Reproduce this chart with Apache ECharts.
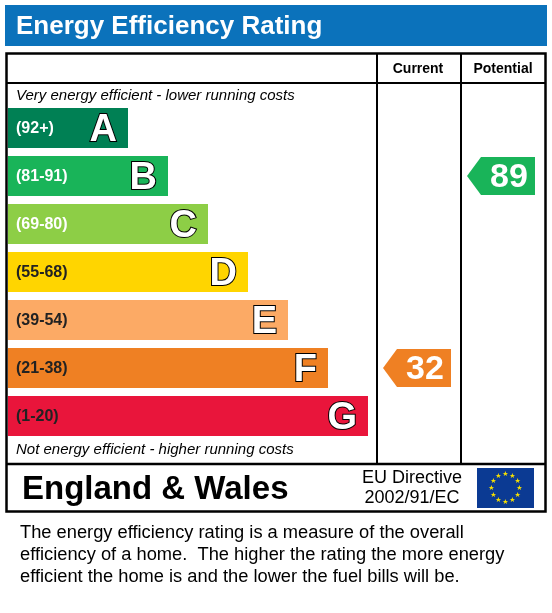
<!DOCTYPE html>
<html><head><meta charset="utf-8">
<script src="https://cdn.jsdelivr.net/npm/echarts@6/dist/echarts.min.js"></script>
<style>html,body{margin:0;padding:0;background:#fff}#c{width:552px;height:613px}</style>
</head><body><div id="c"></div>
<script>
const bands = ['A','B','C','D','E','F','G'];
const ranges = ['(92+)','(81-91)','(69-80)','(55-68)','(39-54)','(21-38)','(1-20)'];
const barLengths = [3,4,5,6,7,8,9];
const colors = ['#008054','#19b459','#8dce46','#ffd500','#fcaa65','#ef8023','#e9153b'];
const rangeColors = ['#fff','#fff','#fff','#222','#222','#222','#222'];
const currentRating = 32, currentBand = 5;
const potentialRating = 89, potentialBand = 1;
const F = 'Liberation Sans, Arial, sans-serif';

const chart = echarts.init(document.getElementById('c'));
function arrow(colLeft, colRight, bandIdx, value, api){
  const y = api.coord([0, bandIdx])[1];
  const h = 38, x0 = colLeft + 6, x1 = colRight - 2, t = 14;
  return {type:'group', children:[
    {type:'polygon', shape:{points:[[x0,y],[x0+t,y-h/2],[x1,y-h/2],[x1,y+h/2],[x0+t,y+h/2]]},
     style:{fill:colors[bandIdx]}},
    {type:'text', style:{text:String(value), x:(x0+t+x1)/2+1, y:y+2, align:'center', verticalAlign:'middle',
      fill:'#fff', font:'bold 34px '+F}}
  ]};
}
chart.setOption({
  animation:false,
  grid:{left:8, top:104, width:360, height:336},
  xAxis:{type:'value', min:0, max:9, show:false},
  yAxis:{type:'category', data:bands, inverse:true, show:false},
  graphic:[
    {type:'rect', shape:{x:5,y:5,width:542,height:41}, style:{fill:'#0b72bb'}},
    {type:'text', style:{text:'Energy Efficiency Rating', x:16, y:27, verticalAlign:'middle', fill:'#fff', font:'bold 26px '+F}},
    {type:'rect', shape:{x:6.5,y:53.5,width:539,height:458}, style:{fill:'none', stroke:'#000', lineWidth:2.5}},
    {type:'line', shape:{x1:6,y1:83,x2:545,y2:83}, style:{stroke:'#000', lineWidth:2}},
    {type:'line', shape:{x1:377,y1:53,x2:377,y2:464}, style:{stroke:'#000', lineWidth:2}},
    {type:'line', shape:{x1:461,y1:53,x2:461,y2:464}, style:{stroke:'#000', lineWidth:2}},
    {type:'line', shape:{x1:6,y1:464,x2:545,y2:464}, style:{stroke:'#000', lineWidth:2.5}},
    {type:'text', style:{text:'Current', x:418, y:69, align:'center', verticalAlign:'middle', fill:'#000', font:'bold 14px '+F}},
    {type:'text', style:{text:'Potential', x:503, y:69, align:'center', verticalAlign:'middle', fill:'#000', font:'bold 14px '+F}},
    {type:'text', style:{text:'Very energy efficient - lower running costs', x:16, y:96, verticalAlign:'middle', fill:'#000', font:'italic 15px '+F}},
    {type:'text', style:{text:'Not energy efficient - higher running costs', x:16, y:450, verticalAlign:'middle', fill:'#000', font:'italic 15px '+F}},
    {type:'text', style:{text:'England & Wales', x:22, y:490, verticalAlign:'middle', fill:'#000', font:'bold 33px '+F}},
    {type:'text', style:{text:'EU Directive\n2002/91/EC', x:412, y:488, align:'center', verticalAlign:'middle', fill:'#000', font:'18px '+F, lineHeight:20}},
    {type:'rect', shape:{x:477,y:468,width:57,height:40}, style:{fill:'#0b3a93'}},
    ...Array.from({length:12},(_,i)=>({type:'text', style:{text:'★', x:505.5+14*Math.sin(i*Math.PI/6), y:488-14*Math.cos(i*Math.PI/6), align:'center', verticalAlign:'middle', fill:'#f7e000', font:'7px DejaVu Sans'}})),
    {type:'text', style:{text:'The energy efficiency rating is a measure of the overall\nefficiency of a home.  The higher the rating the more energy\nefficient the home is and the lower the fuel bills will be.', x:20, y:555, verticalAlign:'middle', fill:'#000', font:'18.3px '+F, lineHeight:22}}
  ],
  series:[
    {type:'bar', barWidth:40,
     data:barLengths.map((v,i)=>({value:v, itemStyle:{color:colors[i]},
       label:{show:true, position:'insideLeft', offset:[3,1], formatter:ranges[i], color:rangeColors[i], fontFamily:F, fontWeight:'bold', fontSize:16}}))},
    {type:'bar', barWidth:40, barGap:'-100%', silent:true,
     data:barLengths.map((v,i)=>({value:v, itemStyle:{color:'transparent'},
       label:{show:true, position:'insideRight', offset:[-6,3], formatter:bands[i], color:'#fff', fontFamily:F, fontWeight:'bold', fontSize:38, textBorderColor:'#000', textBorderWidth:2}}))},
    {type:'custom', coordinateSystem:'cartesian2d', data:[[0, currentBand]],
     renderItem:(p,api)=>arrow(377,453,currentBand,currentRating,api)},
    {type:'custom', coordinateSystem:'cartesian2d', data:[[0, potentialBand]],
     renderItem:(p,api)=>arrow(461,537,potentialBand,potentialRating,api)}
  ]
});
</script></body></html>
